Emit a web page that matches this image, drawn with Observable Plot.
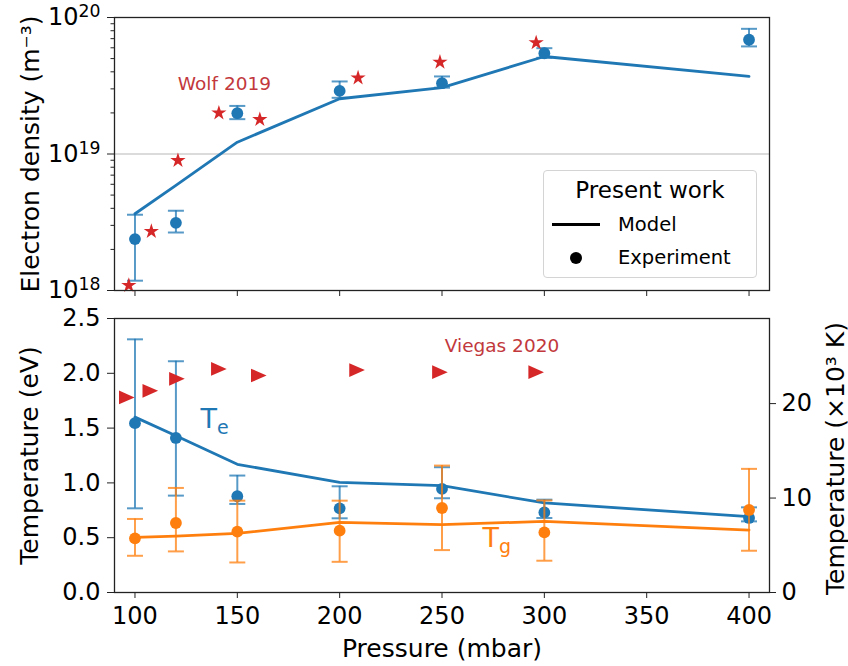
<!DOCTYPE html>
<html>
<head>
<meta charset="utf-8">
<script src="https://cdn.jsdelivr.net/npm/d3@7"></script>
<script src="https://cdn.jsdelivr.net/npm/@observablehq/plot@0.6"></script>
<style>
  body { margin: 0; background: #fff; }
  #chart { position: relative; width: 848px; height: 666px; font-family: "DejaVu Sans", sans-serif; background: #fff; overflow: hidden; }
  #top, #bottom { position: absolute; left: 0; }
  #top { top: 0; }
  #bottom { top: 300px; }
  #legend { position: absolute; left: 543px; top: 170px; width: 214px; height: 108px; box-sizing: border-box;
            border: 1px solid #d4d4d4; border-radius: 4px; background: rgba(255,255,255,0.85); }
  #legend div { position: absolute; white-space: nowrap; color: #000; }
  .lg-title { left: 0; width: 212px; text-align: center; font-size: 23px; line-height: 23px; top: 8px; }
  .lg-text { left: 74px; font-size: 19.5px; line-height: 20px; }
  .lg-line { left: 8px; width: 48px; height: 3px; background: #000; top: 52px; }
  .lg-dot { width: 12px; height: 12px; border-radius: 50%; background: #000; left: 26px; top: 81px; }
</style>
</head>
<body>
<div id="chart">
  <div id="top"></div>
  <div id="bottom"></div>
  <div id="legend">
    <div class="lg-title">Present work</div>
    <div class="lg-line"></div>
    <div class="lg-text" style="top:44px">Model</div>
    <div class="lg-dot"></div>
    <div class="lg-text" style="top:77px">Experiment</div>
  </div>
</div>
<script>
// ---------- data ----------
const pressure = [100, 120, 150, 200, 250, 300, 400];

const neModel = [3.65e18, 5.9e18, 1.22e19, 2.54e19, 3.06e19, 5.18e19, 3.70e19];
const neExp   = [2.38e18, 3.13e18, 1.99e19, 2.90e19, 3.30e19, 5.47e19, 6.87e19];
const neLow   = [1.18e18, 2.66e18, 1.80e19, 2.58e19, 3.06e19, 5.07e19, 6.14e19];
const neHigh  = [3.59e18, 3.84e18, 2.25e19, 3.40e19, 3.70e19, 5.96e19, 8.26e19];

const wolfPressure = [97, 108, 121, 141, 161, 209, 249, 296];
const wolfNe = [1.09e18, 2.71e18, 8.96e18, 2.0e19, 1.79e19, 3.61e19, 4.71e19, 6.54e19];

const teModel = [1.60, 1.43, 1.17, 1.005, 0.975, 0.817, 0.692];
const teExp   = [1.545, 1.41, 0.878, 0.768, 0.945, 0.731, 0.68];
const teLow   = [0.768, 0.884, 0.808, 0.677, 0.86, 0.68, 0.649];
const teHigh  = [2.31, 2.11, 1.067, 0.969, 1.143, 0.847, 0.777];

const tgModel = [0.503, 0.515, 0.539, 0.640, 0.619, 0.649, 0.570];
const tgExp   = [0.494, 0.634, 0.555, 0.564, 0.771, 0.548, 0.753];
const tgLow   = [0.335, 0.375, 0.274, 0.28, 0.387, 0.29, 0.381];
const tgHigh  = [0.671, 0.954, 0.838, 0.838, 1.158, 0.84, 1.128];

const viegasPressure = [96, 107.5, 120.5, 141, 160.5, 208.5, 249, 296];
const viegasTe = [1.78, 1.84, 1.95, 2.04, 1.98, 2.03, 2.01, 2.01];

const xTicks = [100, 150, 200, 250, 300, 350, 400];
const neTicks = [1e18, 1e19, 1e20];
const neTickLabels = ["10^18", "10^19", "10^20"];
const neMinorTicks = [2e18,3e18,4e18,5e18,6e18,7e18,8e18,9e18,2e19,3e19,4e19,5e19,6e19,7e19,8e19,9e19];
const teTicks = [0, 0.5, 1.0, 1.5, 2.0, 2.5];
const kTicks = [0, 10, 20];          // ×10^3 K
const eVtoKK = 11.6045;              // 1 eV = 11.6045 ×10^3 K

// annotation anchors (data units)
const wolfLabel = [{p: 143.7, v: 2.95e19, t: "Wolf 2019"}];
const viegasLabel = [{p: 279.3, v: 2.194, t: "Viegas 2020"}];
const teLabel = [{p: 132.0, v: 1.505, main: "T", sub: "e"}];
const tgLabel = [{p: 269.8, v: 0.418, main: "T", sub: "g"}];

// ---------- styling ----------
const BLUE = "#1f77b4", ORANGE = "#ff7f0e", RED = "#d62728", LABELRED = "#c2383c";
const capSymbol = {draw(ctx, size) { const w = Math.sqrt(size / Math.PI); ctx.moveTo(-w, 0); ctx.lineTo(w, 0); }};
const triRight = {draw(ctx, size) { const s = Math.sqrt(size / Math.PI); ctx.moveTo(s, 0); ctx.lineTo(-s, s * 0.88); ctx.lineTo(-s, -s * 0.88); ctx.closePath(); }};

const neData = pressure.map((p, i) => ({p, model: neModel[i], exp: neExp[i], lo: neLow[i], hi: neHigh[i]}));
const wolfData = wolfPressure.map((p, i) => ({p, v: wolfNe[i]}));
const teData = pressure.map((p, i) => ({p, model: teModel[i], exp: teExp[i], lo: teLow[i], hi: teHigh[i]}));
const tgData = pressure.map((p, i) => ({p, model: tgModel[i], exp: tgExp[i], lo: tgLow[i], hi: tgHigh[i]}));
const viegasData = viegasPressure.map((p, i) => ({p, v: viegasTe[i]}));

const baseStyle = {fontFamily: "DejaVu Sans, sans-serif", fontSize: "24px", color: "#000", background: "transparent", overflow: "visible"};

function errorMarks(data, color) {
  return [
    Plot.ruleX(data, {x: "p", y1: "lo", y2: "hi", stroke: color, strokeWidth: 2, strokeOpacity: 0.75}),
    Plot.dot(data, {x: "p", y: "lo", symbol: capSymbol, r: 8, stroke: color, strokeWidth: 2, strokeOpacity: 0.75, fill: "none"}),
    Plot.dot(data, {x: "p", y: "hi", symbol: capSymbol, r: 8, stroke: color, strokeWidth: 2, strokeOpacity: 0.75, fill: "none"})
  ];
}

// ---------- top panel ----------
const topPlot = Plot.plot({
  width: 848, height: 300,
  marginLeft: 114, marginRight: 79, marginTop: 17, marginBottom: 10,
  style: baseStyle,
  x: {domain: [90, 410], axis: null},
  y: {type: "log", domain: [1e18, 1e20], axis: null},
  marks: [
    Plot.ruleY([1e19], {stroke: "#cfcfcf", strokeWidth: 1.5}),
    Plot.axisX({ticks: xTicks, tickSize: 6, fill: "none", label: null, stroke: "#222"}),
    Plot.axisY({ticks: neMinorTicks, tickSize: 3.5, fill: "none", label: null, stroke: "#222"}),
    Plot.axisY({ticks: neTicks, tickSize: 7, tickPadding: 7, label: null, stroke: "#222",
      tickFormat: d => neTickLabels[neTicks.indexOf(d)]}),
    Plot.line(neData, {x: "p", y: "model", stroke: BLUE, strokeWidth: 2.8}),
    ...errorMarks(neData, BLUE),
    Plot.dot(neData, {x: "p", y: "exp", r: 5.9, fill: BLUE}),
    Plot.dot(wolfData, {x: "p", y: "v", symbol: "star", r: 4.8, fill: RED}),
    Plot.text(wolfLabel, {x: "p", y: "v", text: "t", fill: LABELRED, fontSize: 18.5, textAnchor: "middle", lineAnchor: "bottom"}),
    Plot.frame({stroke: "#222", strokeWidth: 1.3}),
    Plot.text(["Electron density (m⁻³)"], {text: d => d, frameAnchor: "left", rotate: -90, dx: -76, textAnchor: "middle", lineAnchor: "bottom", fontSize: 25})
  ]
});
document.getElementById("top").append(topPlot);

// superscript exponents on log tick labels
d3.select(topPlot).selectAll('g[aria-label="y-axis tick label"] text').each(function() {
  const s = this.textContent;
  if (!s.includes("^")) return;
  const [base, exp] = s.split("^");
  this.textContent = base;
  d3.select(this).append("tspan").attr("dy", "-0.45em").attr("font-size", "0.72em").text(exp);
});

// ---------- bottom panel ----------
const bottomPlot = Plot.plot({
  width: 848, height: 366,
  marginLeft: 114, marginRight: 79, marginTop: 18, marginBottom: 74,
  style: baseStyle,
  x: {domain: [90, 410], axis: null},
  y: {domain: [0, 2.5], axis: null},
  marks: [
    Plot.axisX({ticks: xTicks, tickSize: 6, tickPadding: 8, label: null, stroke: "#222", tickFormat: d => String(d)}),
    Plot.axisY({ticks: teTicks, tickSize: 7, tickPadding: 7, label: null, stroke: "#222", tickFormat: d3.format(".1f")}),
    Plot.axisY({anchor: "right", ticks: kTicks.map(k => k / eVtoKK), tickSize: 6, tickPadding: 6, label: null, stroke: "#222",
      tickFormat: d => String(Math.round(d * eVtoKK))}),
    Plot.line(teData, {x: "p", y: "model", stroke: BLUE, strokeWidth: 2.8}),
    Plot.line(tgData, {x: "p", y: "model", stroke: ORANGE, strokeWidth: 2.8}),
    ...errorMarks(teData, BLUE),
    Plot.dot(teData, {x: "p", y: "exp", r: 5.9, fill: BLUE}),
    ...errorMarks(tgData, ORANGE),
    Plot.dot(tgData, {x: "p", y: "exp", r: 5.9, fill: ORANGE}),
    Plot.dot(viegasData, {x: "p", y: "v", symbol: triRight, r: 7.8, fill: RED, stroke: "none"}),
    Plot.text(viegasLabel, {x: "p", y: "v", text: "t", fill: LABELRED, fontSize: 18.5, textAnchor: "middle", lineAnchor: "bottom"}),
    Plot.text(teLabel, {x: "p", y: "v", text: "main", fill: BLUE, fontSize: 27, textAnchor: "start", lineAnchor: "bottom"}),
    Plot.text(teLabel, {x: "p", y: "v", text: "sub", fill: BLUE, fontSize: 19, textAnchor: "start", lineAnchor: "bottom", dx: 16.5, dy: 6}),
    Plot.text(tgLabel, {x: "p", y: "v", text: "main", fill: ORANGE, fontSize: 27, textAnchor: "start", lineAnchor: "bottom"}),
    Plot.text(tgLabel, {x: "p", y: "v", text: "sub", fill: ORANGE, fontSize: 19, textAnchor: "start", lineAnchor: "bottom", dx: 16.5, dy: 6}),
    Plot.frame({stroke: "#222", strokeWidth: 1.3}),
    Plot.text(["Temperature (eV)"], {text: d => d, frameAnchor: "left", rotate: -90, dx: -77, textAnchor: "middle", lineAnchor: "bottom", fontSize: 25}),
    Plot.text(["Temperature (×10³ K)"], {text: d => d, frameAnchor: "right", rotate: -90, dx: 74, dy: 3, textAnchor: "middle", lineAnchor: "bottom", fontSize: 25}),
    Plot.text(["Pressure (mbar)"], {text: d => d, frameAnchor: "bottom", dy: 64, textAnchor: "middle", lineAnchor: "bottom", fontSize: 25})
  ]
});
document.getElementById("bottom").append(bottomPlot);
</script>
</body>
</html>
